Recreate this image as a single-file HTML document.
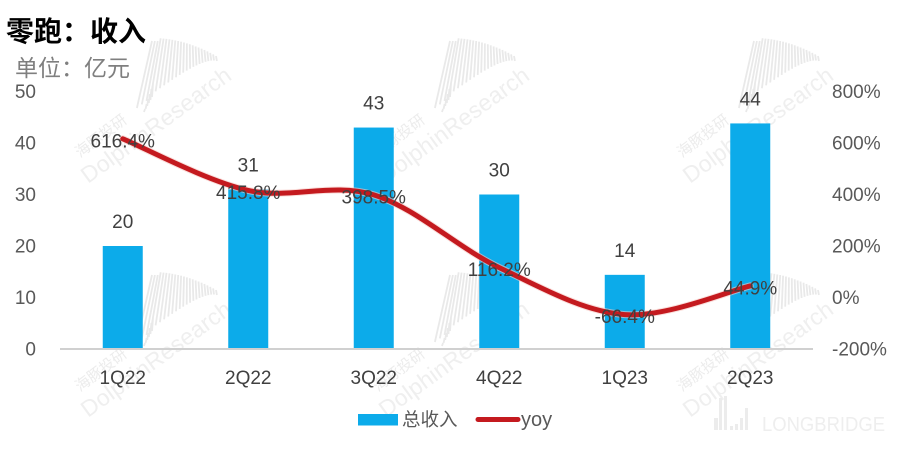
<!DOCTYPE html>
<html lang="zh">
<head>
<meta charset="utf-8">
<title>零跑&#xFF1A;收入</title>
<style>
html,body{margin:0;padding:0;background:#fff;}
svg{display:block;font-family:"Liberation Sans","Noto Sans CJK SC",sans-serif;}
.wmt{font-size:23px;letter-spacing:0.2px;fill:#efefef;}
.wmc{font-size:15px;fill:#ececec;}
.spk{fill:none;stroke:#e9e9e9;stroke-width:1.8;}
</style>
</head>
<body>
<svg id="chart" xmlns="http://www.w3.org/2000/svg" width="904" height="450" viewBox="0 0 904 450">
  <rect width="904" height="450" fill="#fff"/>

  <g class="wm" transform="translate(0,0)">
    <path class="spk" d=""/>
    <text class="wmc" transform="translate(80,158) rotate(-37)">海豚投研</text>
    <text class="wmt" transform="translate(88,184) rotate(-36)">DolphinResearch</text>
  </g>
  <g class="wm" transform="translate(298,0)">
    <path class="spk" d=""/>
    <text class="wmc" transform="translate(80,158) rotate(-37)">海豚投研</text>
    <text class="wmt" transform="translate(88,184) rotate(-36)">DolphinResearch</text>
  </g>
  <g class="wm" transform="translate(602,0)">
    <path class="spk" d=""/>
    <text class="wmc" transform="translate(80,158) rotate(-37)">海豚投研</text>
    <text class="wmt" transform="translate(88,184) rotate(-36)">DolphinResearch</text>
  </g>
  <g class="wm" transform="translate(0,234)">
    <path class="spk" d=""/>
    <text class="wmc" transform="translate(80,158) rotate(-37)">海豚投研</text>
    <text class="wmt" transform="translate(88,184) rotate(-36)">DolphinResearch</text>
  </g>
  <g class="wm" transform="translate(298,234)">
    <path class="spk" d=""/>
    <text class="wmc" transform="translate(80,158) rotate(-37)">海豚投研</text>
    <text class="wmt" transform="translate(88,184) rotate(-36)">DolphinResearch</text>
  </g>
  <g class="wm" transform="translate(602,234)">
    <path class="spk" d=""/>
    <text class="wmc" transform="translate(80,158) rotate(-37)">海豚投研</text>
    <text class="wmt" transform="translate(88,184) rotate(-36)">DolphinResearch</text>
  </g>

  <g>
    <g fill="#ececec">
      <rect x="714" y="418" width="4" height="12"/>
      <rect x="719" y="398" width="3" height="32"/>
      <rect x="724" y="396" width="3" height="34"/>
      <rect x="730" y="426" width="3" height="4"/>
      <rect x="735" y="424" width="3" height="6"/>
      <rect x="740" y="418" width="3" height="12"/>
      <rect x="745" y="408" width="3" height="22"/>
    </g>
    <text x="762" y="431" font-size="20" fill="#eeeeee" textLength="123" lengthAdjust="spacingAndGlyphs">LONGBRIDGE</text>
  </g>

  <text x="6" y="41" font-size="28" font-weight="700" fill="#000" font-family="'Noto Sans CJK SC',sans-serif">零跑&#xFF1A;收入</text>
  <text x="15" y="76" font-size="23" fill="#7f7f7f" font-family="'Noto Sans CJK SC',sans-serif">单位&#xFF1A;亿元</text>

  <g id="bars"></g>
  <line x1="60" x2="813" y1="349" y2="349" stroke="#d0d0d0" stroke-width="2"/>
  <g id="left-ticks"></g>
  <g id="right-ticks"></g>
  <g id="x-labels"></g>
  <path id="yoy-halo" fill="none" stroke="#f6c9c4" stroke-width="7" stroke-linecap="round" opacity="0.6"/>
  <path id="yoy-line" fill="none" stroke="#c41a1f" stroke-width="5" stroke-linecap="round"/>
  <g id="bar-labels"></g>
  <g id="yoy-labels"></g>

  <g>
    <g>
      <rect x="358" y="414" width="40" height="11.5" fill="#0cabea"/>
      <text x="402" y="426" font-size="18.5" fill="#595959">总收入</text>
    </g>
    <g>
      <line x1="478" x2="518" y1="419.5" y2="419.5" stroke="#c41a1f" stroke-width="5" stroke-linecap="round"/>
      <text x="521" y="426" font-size="20" fill="#595959">yoy</text>
    </g>
  </g>
</svg>
<script>
var categories = ["1Q22", "2Q22", "3Q22", "4Q22", "1Q23", "2Q23"];
var revenue = [20, 31, 43, 30, 14.4, 43.8];
var yoy = [616.4, 415.8, 398.5, 116.2, -66.4, 44.9];
var leftTicks = [0, 10, 20, 30, 40, 50];
var rightTicks = [-200, 0, 200, 400, 600, 800];

var NS = "http://www.w3.org/2000/svg";
var plotLeft = 60, plotRight = 813, plotBottom = 349, plotTop = 91.5;
var barWidth = 40;
function xPos(i) { return plotLeft + (plotRight - plotLeft) * (i + 0.5) / categories.length; }
function yLeft(v) { return plotBottom - (v - 0) / (50 - 0) * (plotBottom - plotTop); }
function yRight(v) { return plotBottom - (v + 200) / 1000 * (plotBottom - plotTop); }
function makeText(parent, x, y, str, anchor) {
  var t = document.createElementNS(NS, "text");
  t.setAttribute("x", x);
  t.setAttribute("y", y);
  t.setAttribute("font-size", "19");
  t.setAttribute("fill", "#404040");
  t.setAttribute("text-anchor", anchor);
  t.textContent = str;
  parent.appendChild(t);
  return t;
}

var barsG = document.getElementById("bars");
var barLabelsG = document.getElementById("bar-labels");
var xLabelsG = document.getElementById("x-labels");
var yoyLabelsG = document.getElementById("yoy-labels");
var leftG = document.getElementById("left-ticks");
var rightG = document.getElementById("right-ticks");

categories.forEach(function (c, i) {
  var r = document.createElementNS(NS, "rect");
  r.setAttribute("x", xPos(i) - barWidth / 2);
  r.setAttribute("y", yLeft(revenue[i]));
  r.setAttribute("width", barWidth);
  r.setAttribute("height", plotBottom - yLeft(revenue[i]));
  r.setAttribute("fill", "#0cabea");
  
  
  barsG.appendChild(r);

  var bl = makeText(barLabelsG, xPos(i), yLeft(revenue[i]) - 18, String(Math.round(revenue[i])), "middle");
  
  

  var xl = makeText(xLabelsG, xPos(i), 384, c, "middle");
  
  

  var yl = makeText(yoyLabelsG, xPos(i), yRight(yoy[i]) + 8.5, yoy[i].toFixed(1) + "%", "middle");
  
  
});

leftTicks.forEach(function (v) {
  var t = makeText(leftG, 36, yLeft(v) + 6.5, String(v), "end");
  t.setAttribute("fill", "#595959");
  
  
});
rightTicks.forEach(function (v) {
  var t = makeText(rightG, 832, yRight(v) + 6.5, v + "%", "start");
  t.setAttribute("fill", "#595959");
  
  
});

var pts = yoy.map(function (v, i) { return [xPos(i), yRight(v)]; });
var d = "M" + pts[0][0] + " " + pts[0][1];
for (var i = 0; i < pts.length - 1; i++) {
  var p0 = pts[Math.max(i - 1, 0)], p1 = pts[i], p2 = pts[i + 1], p3 = pts[Math.min(i + 2, pts.length - 1)];
  var c1x = p1[0] + (p2[0] - p0[0]) / 6, c1y = p1[1] + (p2[1] - p0[1]) / 6;
  var c2x = p2[0] - (p3[0] - p1[0]) / 6, c2y = p2[1] - (p3[1] - p1[1]) / 6;
  d += " C" + c1x + " " + c1y + " " + c2x + " " + c2y + " " + p2[0] + " " + p2[1];
}
document.getElementById("yoy-line").setAttribute("d", d);
document.getElementById("yoy-halo").setAttribute("d", d);

// decorative watermark spikes
var s = "";
for (var k = 0; k <= 22; k++) {
  var f = k / 22;
  var tx = 152 + 64 * f;
  var ty = 38 + 18 * f * f + (f < 0.1 ? 3 : 0);
  var len = 62 * Math.pow(1 - f, 1.3) + 5;
  var dx = -9 * (1 - f) + 7 * f;
  s += "M" + tx.toFixed(1) + " " + ty.toFixed(1) + "L" + (tx + dx * len / 40).toFixed(1) + " " + (ty + len).toFixed(1);
}
for (var m = 0; m < 6; m++) {
  s += "M" + (144 + m * 1.6).toFixed(1) + " " + (112 - m * 3).toFixed(1) + "l1 -" + (3 + m * 2);
}
Array.prototype.forEach.call(document.querySelectorAll(".spk"), function (el) { el.setAttribute("d", s); });
</script>
</body>
</html>
